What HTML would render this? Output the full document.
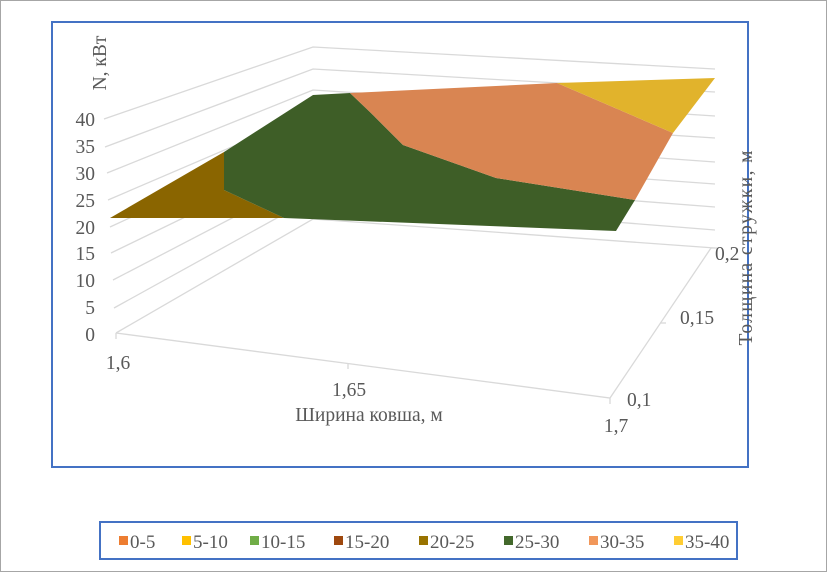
<!DOCTYPE html>
<html><head><meta charset="utf-8"><style>
body{margin:0;background:#fff;}
svg{display:block;font-family:"Liberation Serif",serif;}
</style></head><body>
<svg width="827" height="572" viewBox="0 0 827 572">
<rect x="0.5" y="0.5" width="826" height="571" fill="#fff" stroke="#a6a6a6"/>
<rect x="52" y="22" width="696" height="445" fill="#fff" stroke="#4472c4" stroke-width="2"/>
<g stroke="#d9d9d9" stroke-width="1.3" fill="none">
<polyline points="104,119 313,47 715,69"/>
<polyline points="105,147 313,69 715,92"/>
<polyline points="107,173 313,90 715,116"/>
<polyline points="108,200 313,112 715,138"/>
<polyline points="110,227 313,133 715,162"/>
<polyline points="111,253 313,155 715,184"/>
<polyline points="113,280 313,176 715,207"/>
<polyline points="114,308 313,198 715,230"/>
<polyline points="116,333 313,219 715,248"/>
<polyline points="116,333 610,398 711,248"/>
<line x1="116" y1="333" x2="116" y2="339"/>
<line x1="348" y1="363" x2="348" y2="369"/>
<line x1="610" y1="398" x2="610" y2="404"/>
<line x1="711" y1="248" x2="717" y2="248"/>
<line x1="660" y1="323" x2="666" y2="323"/>
</g>
<polygon points="110,218 224,152 224,190 284,218" fill="#8a6500"/>
<polygon points="224,152 313,95 350,93 371,113 403,145 496,178 635,200 616,231 284,218 224,190" fill="#3e5e27"/>
<polygon points="350,93 557,83 673,133 635,200 496,178 403,145 371,113" fill="#d98552"/>
<polygon points="557,83 715,78 673,133" fill="#e1b32c"/>
<g fill="#595959" font-size="19.5">
<g text-anchor="end">
<text x="95" y="126">40</text><text x="95" y="153">35</text><text x="95" y="180">30</text>
<text x="95" y="207">25</text><text x="95" y="234">20</text><text x="95" y="260">15</text>
<text x="95" y="287">10</text><text x="95" y="314">5</text><text x="95" y="341">0</text>
</g>
<text x="118" y="369" text-anchor="middle">1,6</text>
<text x="349" y="396" text-anchor="middle">1,65</text>
<text x="616" y="432" text-anchor="middle">1,7</text>
<text x="715" y="260">0,2</text>
<text x="680" y="324">0,15</text>
<text x="627" y="406">0,1</text>
<text x="369" y="421" text-anchor="middle">Ширина ковша, м</text>
<text transform="translate(106,63) rotate(-90)" text-anchor="middle">N, кВт</text>
<text transform="translate(752,248) rotate(-90)" text-anchor="middle" textLength="195">Толщина стружки,  м</text>
</g>
<rect x="100" y="522" width="637" height="37" fill="#fff" stroke="#4472c4" stroke-width="2"/>
<g font-size="19" fill="#595959">
<rect x="119" y="536" width="9" height="9" fill="#ed7d31"/><text x="130" y="548">0-5</text>
<rect x="182" y="536" width="9" height="9" fill="#ffc000"/><text x="193" y="548">5-10</text>
<rect x="250" y="536" width="9" height="9" fill="#70ad47"/><text x="261" y="548">10-15</text>
<rect x="334" y="536" width="9" height="9" fill="#9e480e"/><text x="345" y="548">15-20</text>
<rect x="419" y="536" width="9" height="9" fill="#997300"/><text x="430" y="548">20-25</text>
<rect x="504" y="536" width="9" height="9" fill="#43682b"/><text x="515" y="548">25-30</text>
<rect x="589" y="536" width="9" height="9" fill="#f1975a"/><text x="600" y="548">30-35</text>
<rect x="674" y="536" width="9" height="9" fill="#ffcd33"/><text x="685" y="548">35-40</text>
</g>
</svg>
</body></html>
